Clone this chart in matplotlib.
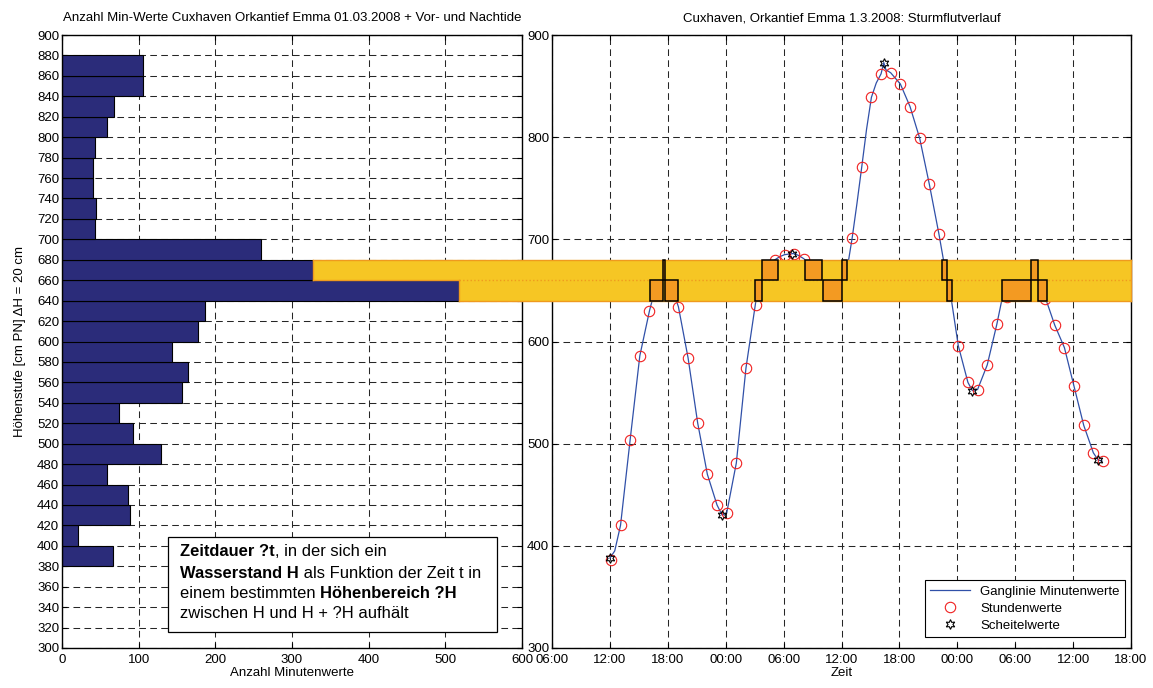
import numpy as np
import matplotlib
matplotlib.use('Agg')
import matplotlib.pyplot as plt
from matplotlib.patches import Rectangle
from matplotlib.lines import Line2D
from matplotlib.transforms import blended_transform_factory

plt.rcParams['font.family'] = ['Liberation Sans', 'DejaVu Sans']
plt.rcParams['font.size'] = 9.5
plt.rcParams['lines.scale_dashes'] = False

# ---------------- data ----------------
# histogram: lower edge of each 20 cm class and number of minute values
bin_lower = list(range(380, 880, 20))
minute_counts = [66, 21.5, 89, 86, 59, 129, 92.5, 74, 157, 164, 143, 178, 187,
                 518, 328, 259, 42.5, 44, 41, 41, 42.5, 59, 68, 106, 106]

# hourly values (time in hours since 29.02.2008 00:00)
hour_times = [12.1 + i for i in range(52)]
hour_values = [386, 420, 504, 586, 630, 657, 656, 634, 584, 520, 470, 440, 432,
               481, 574, 636, 669, 680, 685, 686, 681, 670, 658, 647, 659, 701,
               771, 839, 862, 863, 852, 830, 799, 754, 705, 650, 596, 560, 553,
               577, 617, 644, 650, 656, 662, 642, 616, 594, 556, 518, 491, 483]

# minute curve (read at key points)
curve_t = [12.0, 12.5, 13.1, 14.1, 15.1, 16.1, 16.6, 17.1, 17.6, 18.1, 18.6, 19.1,
           20.1, 21.1, 22.1, 23.1, 23.63, 24.1, 25.1, 26.1, 27.1, 27.74, 28.1,
           28.6, 29.1, 29.6, 30.1, 30.9, 31.1, 31.6, 32.1, 33.1, 34.0, 34.5, 35.1,
           35.6, 36.1, 36.5, 37.1, 37.6, 38.1, 38.6, 39.1, 39.6, 40.1, 40.38, 40.6,
           41.1, 42.1, 43.1, 44.1, 45.1, 46.1, 46.6, 46.9, 47.1, 47.4, 48.1, 49.1,
           49.55, 50.1, 51.1, 52.1, 52.6, 53.1, 54.1, 55.1, 55.62, 56.0, 56.4,
           56.8, 57.1, 57.3, 58.1, 59.1, 60.1, 61.1, 62.1, 62.6, 63.0]
curve_h = [388, 395, 420, 504, 586, 630, 648, 657, 661, 656, 648, 634,
           584, 520, 470, 440, 430, 432, 481, 574, 638, 660, 669,
           676, 680, 683, 685, 686, 686, 684, 681, 670, 660, 652, 647,
           650, 659, 666, 701, 735, 771, 808, 839, 853, 862, 873, 866,
           863, 852, 830, 799, 754, 705, 678, 660, 650, 640, 596, 560,
           552, 553, 577, 617, 640, 644, 650, 656, 660, 664, 660,
           650, 642, 638, 616, 594, 556, 518, 491, 484, 483]

# turning points (Scheitelwerte)
peak_times = [12.0, 23.63, 30.9, 40.38, 49.55, 62.6]
peak_values = [388, 430, 686, 873, 552, 484]

# durations inside the two height classes
lower_start = [16.16, 17.74, 27.06, 34.08, 46.89, 52.60, 56.40]
lower_end = [17.46, 19.02, 27.74, 36.05, 47.41, 55.62, 57.27]
upper_start = [17.46, 27.74, 32.18, 36.10, 46.44, 55.62]
upper_end = [17.74, 29.41, 33.97, 36.57, 46.89, 56.40]

time_ticks = list(range(6, 67, 6))
time_labels = ['06:00', '12:00', '18:00', '00:00', '06:00', '12:00',
               '18:00', '00:00', '06:00', '12:00', '18:00']

# ---------------- figure ----------------
W, H = 1153, 688
fig = plt.figure(figsize=(W / 100, H / 100), dpi=100)
ax1 = fig.add_axes([62 / W, (H - 648) / H, 460 / W, 613 / H])
ax2 = fig.add_axes([552 / W, (H - 648) / H, 579 / W, 613 / H])

grid_kw = dict(color='0.15', linestyle=(0, (4.8, 3.1)), linewidth=0.75)

for ax in (ax1, ax2):
    ax.set_axisbelow(True)
    ax.tick_params(direction='in', top=True, right=True, length=3.5, width=0.8,
                   labelsize=9.5)
    for s in ax.spines.values():
        s.set_linewidth(1.0)
    ax.grid(True, **grid_kw)

# left: histogram
ax1.barh(bin_lower, minute_counts, height=20, align='edge', color='#2B2C7A',
         edgecolor='black', linewidth=0.8, zorder=2)
ax1.set_xlim(0, 600)
ax1.set_ylim(300, 900)
ax1.set_xticks(range(0, 601, 100))
ax1.set_yticks(range(300, 901, 20))
ax1.tick_params(axis='y', pad=2)
ax1.tick_params(axis='x', pad=4)
ax1.set_xlabel('Anzahl Minutenwerte', labelpad=1)
ax1.set_ylabel('Höhenstufe [cm PN] ΔH = 20 cm', labelpad=8)
ax1.set_title('Anzahl Min-Werte Cuxhaven Orkantief Emma 01.03.2008 + Vor- und Nachtide',
              fontsize=9.5, pad=10)

# right: time series
ax2.plot(curve_t, curve_h, color='#3050A8', linewidth=0.9, zorder=3,
         label='Ganglinie Minutenwerte')
ax2.plot(hour_times, hour_values, linestyle='none', marker='o', markersize=7.5,
         markerfacecolor='none', markeredgecolor='#F02020', markeredgewidth=0.8,
         zorder=4, label='Stundenwerte')
ax2.plot(peak_times, peak_values, linestyle='none', marker=(6, 1, 0), markersize=7,
         markerfacecolor='none', markeredgecolor='black', markeredgewidth=0.8,
         zorder=4, label='Scheitelwerte')
ax2.set_xlim(6, 66)
ax2.set_ylim(300, 900)
ax2.set_xticks(time_ticks)
ax2.set_xticklabels(time_labels)
ax2.set_yticks(range(300, 901, 100))
ax2.tick_params(axis='y', pad=2)
ax2.tick_params(axis='x', pad=4)
ax2.set_xlabel('Zeit', labelpad=1)
ax2.set_title('Cuxhaven, Orkantief Emma 1.3.2008: Sturmflutverlauf', fontsize=9.5, pad=10)
leg = ax2.legend(loc='lower right', bbox_to_anchor=(0.99, 0.018), borderaxespad=0,
                 fancybox=False, framealpha=1, edgecolor='black', fontsize=9.5,
                 handlelength=3.0, borderpad=0.4, labelspacing=0.35)
leg.get_frame().set_linewidth(0.8)
leg.set_zorder(20)

# ---------------- band across both panels ----------------
inv = fig.transFigure.inverted()
xU = inv.transform(ax1.transData.transform((minute_counts[bin_lower.index(660)], 0)))[0]
xL = inv.transform(ax1.transData.transform((minute_counts[bin_lower.index(640)], 0)))[0]
xR = ax2.get_position().x1
bt = blended_transform_factory(fig.transFigure, ax1.transData)
band_fc = '#F6C624'
band_ec = '#EF9A1E'
fig.add_artist(Rectangle((xU, 660), xR - xU, 20, transform=bt, facecolor=band_fc,
                         edgecolor='none', zorder=5))
fig.add_artist(Rectangle((xL, 640), xR - xL, 20, transform=bt, facecolor=band_fc,
                         edgecolor='none', zorder=5))
for xs, ys, ls in [([xU, xR], [680, 680], '-'), ([xL, xR], [640, 640], '-'),
                   ([xU, xU], [660, 680], '-'), ([xL, xL], [640, 660], '-'),
                   ([xR, xR], [640, 680], '-'), ([xU, xL], [660, 660], '-'),
                   ([xL, xR], [660, 660], ':')]:
    fig.add_artist(Line2D(xs, ys, transform=bt, color=band_ec, linewidth=1.0,
                          linestyle=ls, zorder=5.5))

box_fc = '#F39A22'
for s, e in zip(lower_start, lower_end):
    fig.add_artist(Rectangle((s, 640), e - s, 20, transform=ax2.transData,
                             facecolor=box_fc, edgecolor='black', linewidth=1.1,
                             zorder=6))
for s, e in zip(upper_start, upper_end):
    fig.add_artist(Rectangle((s, 660), e - s, 20, transform=ax2.transData,
                             facecolor=box_fc, edgecolor='black', linewidth=1.1,
                             zorder=6))

# ---------------- text box (inside left panel) ----------------
def fpx(x, y):
    return (x / W, 1 - y / H)

bx0, by0 = fpx(168, 632)
bx1, by1 = fpx(497, 537)
ax1.add_patch(Rectangle((bx0, by0), bx1 - bx0, by1 - by0, transform=fig.transFigure,
                        facecolor='white', edgecolor='black', linewidth=0.9,
                        zorder=10, clip_on=False))

lines = [
    [('Zeitdauer ?t', True), (', in der sich ein', False)],
    [('Wasserstand H', True), (' als Funktion der Zeit t in', False)],
    [('einem bestimmten ', False), ('Höhenbereich ?H', True)],
    [('zwischen H und H + ?H aufhält', False)],
]
line_y = [552, 573, 594, 614]
for pieces, yc in zip(lines, line_y):
    prev = None
    for txt, bold in pieces:
        w = 'bold' if bold else 'normal'
        if prev is None:
            x, y = fpx(180, yc)
            prev = ax1.text(x, y, txt, transform=fig.transFigure, fontsize=11.9,
                            fontweight=w, ha='left', va='center', zorder=11,
                            clip_on=False)
        else:
            prev = ax1.annotate(txt, xy=(1, 0.5), xycoords=prev, fontsize=11.9,
                                fontweight=w, ha='left', va='center', zorder=11,
                                annotation_clip=False)

fig.savefig('out.png', dpi=100)
